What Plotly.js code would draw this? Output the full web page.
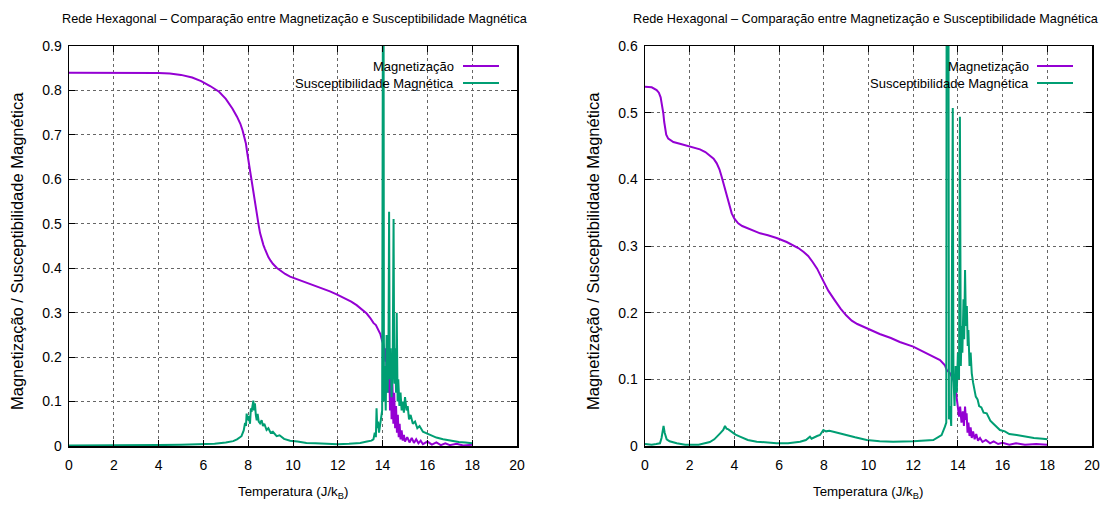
<!DOCTYPE html>
<html>
<head>
<meta charset="utf-8">
<script src="https://cdn.plot.ly/plotly-3.0.1.min.js"></script>
<style>html,body{margin:0;padding:0;background:#fff;}#chart{width:1110px;height:506px;}</style>
</head>
<body>
<div id="chart"></div>
<script>
// ---------- Left panel data ----------
const tempMagLeft = [0,1,2,3,4,4.5,5.0,5.5,5.9,6.3,6.7,7.0,7.3,7.5,7.65,7.75,7.82,7.9,7.95,8.0,8.05,8.1,8.15,8.2,8.25,8.3,8.35,8.4,8.47,8.53,8.6,8.68,8.75,8.82,8.9,9.0,9.1,9.27,9.45,9.65,9.87,10.2,10.6,10.9,11.3,11.65,11.95,12.3,12.6,12.84,13.05,13.29,13.45,13.59,13.7,13.8,13.9,13.97,14.03,14.08,14.12,14.15,14.18,14.22,14.26,14.3,14.33,14.37,14.4,14.44,14.48,14.52,14.56,14.6,14.64,14.68,14.72,14.76,14.8,14.85,14.9,14.95,15.0,15.1,15.2,15.3,15.4,15.5,15.6,15.7,15.8,16.0,16.2,16.4,16.6,16.8,17.0,17.3,17.6,18.0];
const magLeft = [0.840,0.840,0.840,0.840,0.839,0.838,0.835,0.829,0.821,0.810,0.797,0.781,0.759,0.741,0.725,0.710,0.697,0.680,0.662,0.645,0.628,0.615,0.598,0.580,0.562,0.546,0.530,0.512,0.496,0.479,0.465,0.452,0.443,0.434,0.425,0.417,0.410,0.401,0.394,0.387,0.381,0.375,0.368,0.362,0.355,0.348,0.341,0.333,0.325,0.317,0.309,0.298,0.288,0.277,0.272,0.262,0.252,0.238,0.230,0.215,0.190,0.220,0.160,0.200,0.120,0.180,0.080,0.170,0.060,0.140,0.050,0.120,0.040,0.090,0.030,0.070,0.020,0.050,0.015,0.035,0.012,0.025,0.010,0.020,0.008,0.018,0.007,0.015,0.006,0.012,0.004,0.010,0.003,0.008,0.002,0.006,0.002,0.005,0.001,0.003];

const tempSusLeft = [0,1,2,3,4,5,6,6.5,7.0,7.33,7.5,7.7,7.8,7.86,7.9,7.93,7.98,8.03,8.08,8.12,8.15,8.2,8.23,8.26,8.3,8.34,8.38,8.42,8.47,8.53,8.6,8.66,8.72,8.82,8.9,9.0,9.1,9.27,9.4,9.6,9.87,10.2,10.6,11.0,11.5,12.0,12.5,13.0,13.3,13.5,13.59,13.65,13.7,13.73,13.76,13.8,13.84,13.88,13.93,13.98,14.02,14.03,14.04,14.06,14.1,14.14,14.18,14.22,14.26,14.29,14.32,14.36,14.4,14.45,14.49,14.52,14.56,14.6,14.63,14.67,14.7,14.75,14.8,14.85,14.9,14.95,15.0,15.07,15.12,15.18,15.25,15.35,15.45,15.55,15.65,15.8,15.97,16.2,16.4,16.7,17.0,17.4,17.7,18.0];
const susLeft = [0.001,0.001,0.002,0.002,0.002,0.003,0.004,0.005,0.008,0.011,0.015,0.022,0.035,0.052,0.045,0.073,0.058,0.068,0.050,0.085,0.077,0.098,0.102,0.080,0.096,0.070,0.058,0.072,0.055,0.051,0.058,0.045,0.050,0.036,0.040,0.030,0.032,0.022,0.024,0.016,0.012,0.010,0.007,0.006,0.005,0.004,0.005,0.007,0.010,0.012,0.015,0.030,0.020,0.085,0.040,0.055,0.030,0.045,0.060,0.080,1.200,1.200,1.200,0.100,0.180,0.080,0.250,0.120,0.200,0.527,0.150,0.220,0.110,0.180,0.511,0.140,0.220,0.120,0.300,0.100,0.150,0.090,0.120,0.080,0.100,0.075,0.110,0.080,0.090,0.060,0.070,0.050,0.055,0.040,0.045,0.032,0.028,0.022,0.019,0.015,0.012,0.009,0.008,0.006];

// ---------- Right panel data ----------
const tempMagRight = [0,0.3,0.52,0.62,0.7,0.76,0.82,0.86,0.9,0.95,1.04,1.15,1.27,1.6,1.94,2.2,2.46,2.7,2.91,3.07,3.21,3.33,3.43,3.55,3.66,3.77,3.88,4.0,4.17,4.35,4.55,4.85,5.15,5.5,5.89,6.34,6.6,6.86,7.1,7.3,7.5,7.7,7.85,8.0,8.2,8.5,8.75,9.0,9.25,9.5,10.0,10.5,11.0,11.4,12.0,12.3,12.8,13.2,13.42,13.5,13.65,13.8,13.9,14.0,14.05,14.1,14.16,14.22,14.27,14.32,14.36,14.39,14.43,14.47,14.52,14.57,14.62,14.68,14.75,14.82,14.9,14.99,15.1,15.25,15.44,15.6,15.8,16.0,16.3,16.6,17.0,17.5,18.0];
const magRight = [0.539,0.538,0.534,0.530,0.523,0.512,0.499,0.486,0.474,0.467,0.461,0.458,0.456,0.453,0.450,0.448,0.445,0.441,0.436,0.431,0.424,0.415,0.404,0.389,0.374,0.360,0.349,0.341,0.334,0.330,0.327,0.323,0.319,0.316,0.312,0.306,0.302,0.297,0.291,0.285,0.276,0.266,0.256,0.245,0.233,0.218,0.206,0.196,0.188,0.183,0.175,0.168,0.162,0.156,0.149,0.144,0.135,0.129,0.121,0.114,0.109,0.099,0.085,0.060,0.044,0.059,0.035,0.052,0.030,0.059,0.039,0.049,0.020,0.035,0.015,0.028,0.012,0.022,0.010,0.018,0.008,0.012,0.006,0.009,0.004,0.007,0.003,0.005,0.002,0.004,0.002,0.003,0.002];

const tempSusRight = [0,0.3,0.5,0.67,0.74,0.8,0.83,0.88,0.97,1.1,1.42,1.8,2.4,2.9,3.1,3.36,3.5,3.58,3.65,3.73,3.8,3.88,4.05,4.25,4.6,5.0,5.5,5.89,6.4,6.94,7.2,7.3,7.38,7.45,7.55,7.7,7.83,7.98,8.1,8.25,8.43,8.7,9.02,9.4,9.92,10.5,11.1,12.0,12.9,13.27,13.42,13.48,13.5,13.57,13.6,13.65,13.7,13.77,13.8,13.85,13.9,13.95,14.0,14.05,14.09,14.13,14.17,14.2,14.25,14.28,14.32,14.36,14.4,14.44,14.47,14.52,14.57,14.62,14.68,14.74,14.8,14.88,14.95,15.05,15.15,15.29,15.45,15.6,15.75,15.88,16.1,16.3,16.63,17.0,17.4,17.8,18.0];
const susRight = [0.003,0.002,0.003,0.004,0.012,0.025,0.030,0.020,0.010,0.007,0.004,0.002,0.002,0.006,0.010,0.019,0.024,0.030,0.026,0.025,0.023,0.021,0.017,0.014,0.009,0.0065,0.005,0.004,0.004,0.0065,0.009,0.0115,0.014,0.011,0.013,0.015,0.0165,0.024,0.022,0.023,0.0215,0.019,0.0165,0.013,0.009,0.007,0.0065,0.007,0.009,0.0165,0.029,0.035,0.900,0.900,0.040,0.060,0.030,0.507,0.104,0.060,0.120,0.080,0.140,0.100,0.494,0.120,0.180,0.140,0.220,0.160,0.264,0.180,0.210,0.150,0.174,0.120,0.140,0.109,0.095,0.085,0.074,0.070,0.060,0.058,0.050,0.049,0.038,0.033,0.028,0.024,0.022,0.018,0.0165,0.014,0.012,0.011,0.010];

const xTicks = [0,2,4,6,8,10,12,14,16,18,20];
const seriesNames = ['Magnetização', 'Susceptibilidade Magnética'];
const chartTitle = 'Rede Hexagonal – Comparação entre Magnetização e Susceptibilidade Magnética';
const xLabel = 'Temperatura (J/k<sub>B</sub>)';
const yLabel = 'Magnetização / Susceptibilidade Magnética';

const purple = '#9400d3', green = '#009e73';
const W = 1110, H = 506;
const px = v => v / W, py = v => (H - v) / H;

const font = '"Liberation Sans", Arial, sans-serif';

function tr(x, y, color, xa, ya) {
  return {x: x, y: y, type: 'scatter', mode: 'lines', line: {color: color, width: 2}, xaxis: xa, yaxis: ya, showlegend: false, hoverinfo: 'skip'};
}
const data = [
  tr(tempMagLeft, magLeft, purple, 'x', 'y'),
  tr(tempSusLeft, susLeft, green, 'x', 'y'),
  tr(tempMagRight, magRight, purple, 'x2', 'y2'),
  tr(tempSusRight, susRight, green, 'x2', 'y2')
];

function common() {
  return {ticks: 'inside', ticklen: 6, tickcolor: '#000', mirror: 'allticks', showline: true, linecolor: '#000', linewidth: 1.5,
    showgrid: true, gridcolor: '#666', griddash: 'dot', gridwidth: 1, zeroline: false,
    tickfont: {family: font, size: 14, color: '#000'}, fixedrange: true};
}
function xaxis(dom, anchor) {
  return Object.assign(common(), {domain: dom, anchor: anchor, range: [0, 20], tickvals: xTicks, ticklabelstandoff: 6});
}
function yaxis(dom, anchor, max) {
  return Object.assign(common(), {domain: dom, anchor: anchor, range: [0, max], dtick: 0.1, tick0: 0, ticklabelstandoff: 3});
}
const yDom = [py(446), py(46)];
const layout = {
  width: W, height: H, margin: {l: 0, r: 0, t: 0, b: 0}, paper_bgcolor: '#fff', plot_bgcolor: '#fff',
  showlegend: false,
  xaxis: xaxis([px(69), px(517)], 'y'),
  yaxis: yaxis(yDom, 'x', 0.9),
  xaxis2: xaxis([px(645), px(1092)], 'y2'),
  yaxis2: yaxis(yDom, 'x2', 0.6),
  annotations: [],
  shapes: []
};
const panels = [{cx: 295, lx: 17, xl: 293, legRight: 456, l0: 463, l1: 499}, {cx: 866, lx: 593, xl: 868, legRight: 1031, l0: 1037, l1: 1073}];
panels.forEach(p => {
  layout.annotations.push({text: chartTitle, xref: 'paper', yref: 'paper', x: px(p.cx), y: py(19), xanchor: 'center', yanchor: 'middle', showarrow: false, font: {family: font, size: 12.7, color: '#000'}});
  layout.annotations.push({text: xLabel, xref: 'paper', yref: 'paper', x: px(p.xl), y: py(492), xanchor: 'center', yanchor: 'middle', showarrow: false, font: {family: font, size: 13.3, color: '#000'}});
  layout.annotations.push({text: yLabel, xref: 'paper', yref: 'paper', x: px(p.lx), y: py(251), xanchor: 'center', yanchor: 'middle', textangle: -90, showarrow: false, font: {family: font, size: 16.5, color: '#000'}});
  [[seriesNames[0], 66, purple], [seriesNames[1], 83, green]].forEach(([t, yy, c]) => {
    layout.annotations.push({text: t, xref: 'paper', yref: 'paper', x: px(p.legRight), y: py(yy), xanchor: 'right', yanchor: 'middle', showarrow: false, font: {family: font, size: 13, color: '#000'}});
    layout.shapes.push({type: 'line', xref: 'paper', yref: 'paper', x0: px(p.l0), x1: px(p.l1), y0: py(yy), y1: py(yy), line: {color: c, width: 2}});
  });
});
Plotly.newPlot('chart', data, layout, {displayModeBar: false, staticPlot: true});
</script>
</body>
</html>
